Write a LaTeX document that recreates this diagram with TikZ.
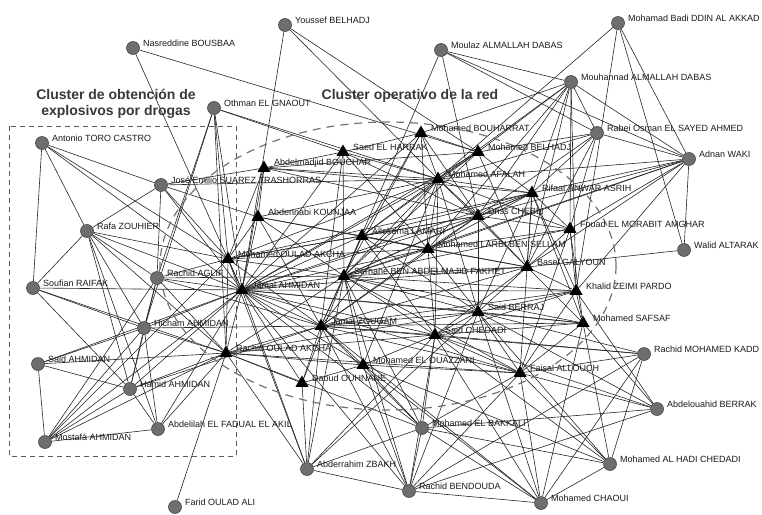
\documentclass[tikz,border=0pt]{standalone}
\usepackage{fontspec}
\newfontfamily\labfont{Liberation Sans}
\usetikzlibrary{shapes.geometric,backgrounds}
\tikzset{
 cnd/.style={circle,fill=black!57,draw=black!72,line width=0.6pt,minimum size=13pt,inner sep=0pt},
 tnd/.style={regular polygon,regular polygon sides=3,fill=black,minimum size=15pt,inner sep=0pt},
 lab/.style={anchor=west,inner sep=0pt,font=\labfont\fontsize{9}{10}\selectfont,text=black!90},
 edge/.style={draw=black!85,line width=0.6pt},
 ttl/.style={font=\labfont\bfseries\fontsize{14}{16}\selectfont,text=black!78,align=center},
 clusterbox/.style={draw=black!65,line width=0.9pt,dash pattern=on 5pt off 4pt},
 clusterell/.style={draw=black!55,line width=1.2pt,dash pattern=on 8pt off 6pt},
}
\newcommand{\pcirc}[4]{\node[cnd] (#1) at (#2,#3) {}; \node[lab] (#1-l) at (#2+10,#3-5) {#4};}
\newcommand{\ptri}[4]{\node[tnd] (#1) at (#2,#3) {}; \node[lab] (#1-l) at (#2+10,#3-5) {#4};}
\begin{document}
\begin{tikzpicture}[x=1pt,y=-1pt]
\useasboundingbox (0,0) rectangle (762,514);
% circles
\pcirc{bousbaa}{133}{48}{Nasreddine BOUSBAA}
\pcirc{gnaout}{214}{108}{Othman EL GNAOUT}
\pcirc{toro}{42}{143}{Antonio TORO CASTRO}
\pcirc{belhadjY}{285}{25}{Youssef BELHADJ}
\pcirc{moulaz}{441}{50}{Moulaz ALMALLAH DABAS}
\pcirc{akkad}{618}{23}{Mohamad Badi DDIN AL AKKAD}
\pcirc{mouhannad}{571}{82}{Mouhannad ALMALLAH DABAS}
\pcirc{rabei}{597}{133}{Rabei Osman EL SAYED AHMED}
\pcirc{waki}{689}{159}{Adnan WAKI}
\pcirc{altarak}{684}{250}{Walid ALTARAK}
\pcirc{suarez}{161}{185}{José Emilio SUAREZ TRASHORRAS}
\pcirc{zouhier}{87}{231}{Rafa ZOUHIER}
\pcirc{raifak}{33}{288}{Soufian RAIFAK}
\pcirc{aglif}{157}{278}{Rachid AGLIF}
\pcirc{hicham}{144}{328}{Hicham AHMIDAN}
\pcirc{saidA}{38}{364}{Said AHMIDAN}
\pcirc{hamid}{130}{389}{Hamid AHMIDAN}
\pcirc{mostafa}{45}{442}{Mostafá AHMIDAN}
\pcirc{fadual}{158}{429}{Abdelilah EL FADUAL EL AKIL}
\pcirc{farid}{175}{507}{Farid OULAD ALI}
\pcirc{zbakh}{307}{469}{Abderrahim ZBAKH}
\pcirc{bakkali}{422}{428}{Mohamed EL BAKKALI}
\pcirc{bendouda}{409}{491}{Rachid BENDOUDA}
\pcirc{kadd}{644}{354}{Rachid MOHAMED KADD}
\pcirc{berrak}{657}{409}{Abdelouahid BERRAK}
\pcirc{hadi}{610}{464}{Mohamed AL HADI CHEDADI}
\pcirc{chaoui}{541}{503}{Mohamed CHAOUI}
% triangles
\ptri{bouharrat}{421}{133}{Mohamed BOUHARRAT}
\ptri{harrak}{343}{152}{Saed EL HARRAK}
\ptri{bouchar}{264}{168}{Abdelmadjid BOUCHAR}
\ptri{belhadjM}{478}{152}{Mohamed BELHADJ}
\ptri{afalah}{438}{179}{Mohamed AFALAH}
\ptri{asrih}{532}{193}{Rifaat ANWAR ASRIH}
\ptri{kounjaa}{258}{217}{Abdennabi KOUNJAA}
\ptri{chebli}{478}{216}{Driss CHEBLI}
\ptri{morabit}{570}{229}{Fouad EL MORABIT AMGHAR}
\ptri{lamari}{362}{236}{Allekema LAMARI}
\ptri{larbi}{428}{249}{Mohamed LARBI BEN SELLAM}
\ptri{mOulad}{228}{259}{Mohamed OULAD AKCHA}
\ptri{galyoun}{527}{267}{Basel GALYOUN}
\ptri{fakhet}{344}{276}{Serhane BEN ABDELMAJID FAKHET}
\ptri{jamal}{242}{290}{Jamal AHMIDAN}
\ptri{zeimi}{576}{291}{Khalid ZEIMI PARDO}
\ptri{berraj}{478}{312}{Said BERRAJ}
\ptri{zougam}{321}{326}{Jamal ZOUGAM}
\ptri{safsaf}{583}{323}{Mohamed SAFSAF}
\ptri{chedadi}{435}{335}{Said CHEDADI}
\ptri{rOulad}{226}{353}{Rachid OULAD AKCHA}
\ptri{ouazzani}{363}{365}{Mohamed EL OUAZZANI}
\ptri{allouch}{520}{373}{Faisal ALLOUCH}
\ptri{ouhnane}{302}{383}{Daoud OUHNANE}
% titles
\node[ttl] (t1) at (116,104) {Cluster de obtención de\\explosivos por drogas};
\node[ttl] (t2) at (410,96) {Cluster operativo de la red};
\begin{pgfonlayer}{background}
\foreach \a/\b in {
bousbaa/belhadjM, bousbaa/jamal,
gnaout/aglif, gnaout/mOulad, gnaout/jamal, gnaout/rOulad, gnaout/hicham, gnaout/harrak, gnaout/afalah,
toro/raifak, toro/zouhier, toro/jamal, toro/suarez, toro/mOulad,
belhadjY/jamal, belhadjY/belhadjM, belhadjY/afalah,
moulaz/fakhet, moulaz/chebli, moulaz/mouhannad, moulaz/waki, moulaz/rabei,
akkad/afalah, akkad/waki, akkad/altarak, akkad/zeimi,
mouhannad/morabit, mouhannad/zeimi, mouhannad/galyoun, mouhannad/asrih, mouhannad/chebli, mouhannad/belhadjM, mouhannad/bouharrat, mouhannad/rabei, mouhannad/waki, mouhannad/afalah, mouhannad/larbi,
rabei/waki, rabei/asrih, rabei/morabit, rabei/galyoun, rabei/chebli, rabei/belhadjM, rabei/afalah,
waki/asrih, waki/morabit, waki/galyoun, waki/chebli, waki/larbi, waki/altarak, waki/zeimi, waki/fakhet, waki/afalah,
altarak/galyoun,
suarez/zouhier, suarez/aglif, suarez/jamal, suarez/mOulad, suarez/bouchar, suarez/kounjaa, suarez/afalah,
zouhier/raifak, zouhier/aglif, zouhier/hicham, zouhier/jamal, zouhier/mOulad, zouhier/hamid, zouhier/rOulad, zouhier/fadual,
raifak/jamal, raifak/hicham, raifak/hamid, raifak/rOulad,
aglif/jamal, aglif/hicham, aglif/hamid, aglif/mOulad, aglif/rOulad, aglif/mostafa, aglif/zougam, aglif/fakhet,
hicham/jamal, hicham/rOulad, hicham/hamid, hicham/mostafa, hicham/fadual, hicham/zougam, hicham/saidA,
saidA/hamid, saidA/mostafa, saidA/jamal, saidA/rOulad,
hamid/jamal, hamid/rOulad, hamid/mostafa, hamid/fadual, hamid/zougam,
mostafa/fadual, mostafa/rOulad, mostafa/jamal, mostafa/mOulad,
fadual/rOulad, fadual/jamal,
farid/rOulad,
zbakh/rOulad, zbakh/jamal, zbakh/zougam, zbakh/bakkali, zbakh/bendouda, zbakh/fakhet, zbakh/chedadi, zbakh/ouhnane, zbakh/mOulad, zbakh/berraj,
bakkali/bendouda, bakkali/ouazzani, bakkali/chedadi, bakkali/allouch, bakkali/zougam, bakkali/fakhet, bakkali/chaoui, bakkali/hadi, bakkali/berrak, bakkali/rOulad,
bendouda/chaoui, bendouda/ouazzani, bendouda/chedadi, bendouda/allouch, bendouda/berraj, bendouda/kadd, bendouda/zougam,
kadd/allouch, kadd/hadi, kadd/chaoui, kadd/berraj, kadd/chedadi, kadd/zougam,
berrak/allouch, berrak/safsaf, berrak/berraj, berrak/chedadi, berrak/bendouda, berrak/zeimi,
hadi/allouch, hadi/chaoui, hadi/chedadi, hadi/safsaf, hadi/ouazzani, hadi/berraj,
chaoui/allouch, chaoui/chedadi, chaoui/safsaf, chaoui/zougam, chaoui/berraj, chaoui/ouazzani,
bouharrat/harrak, bouharrat/afalah, bouharrat/belhadjM, bouharrat/lamari, bouharrat/fakhet, bouharrat/chebli, bouharrat/jamal, bouharrat/larbi,
harrak/bouchar, harrak/afalah, harrak/fakhet, harrak/jamal, harrak/larbi, harrak/zougam, harrak/chebli,
bouchar/afalah, bouchar/asrih, bouchar/belhadjM, bouchar/kounjaa, bouchar/mOulad, bouchar/jamal, bouchar/chebli,
belhadjM/afalah, belhadjM/asrih, belhadjM/lamari, belhadjM/fakhet, belhadjM/jamal, belhadjM/galyoun,
afalah/asrih, afalah/chebli, afalah/lamari, afalah/larbi, afalah/fakhet, afalah/jamal, afalah/mOulad, afalah/kounjaa, afalah/zougam, afalah/berraj, afalah/morabit, afalah/galyoun, afalah/ouazzani, afalah/chedadi,
asrih/chebli, asrih/morabit, asrih/larbi, asrih/fakhet, asrih/jamal, asrih/galyoun, asrih/zeimi, asrih/lamari, asrih/mOulad, asrih/berraj, asrih/safsaf, asrih/allouch,
kounjaa/jamal, kounjaa/mOulad, kounjaa/lamari, kounjaa/fakhet, kounjaa/larbi, kounjaa/zougam,
chebli/larbi, chebli/lamari, chebli/fakhet, chebli/morabit, chebli/galyoun, chebli/jamal, chebli/berraj, chebli/zougam,
morabit/galyoun, morabit/zeimi, morabit/larbi, morabit/fakhet, morabit/safsaf, morabit/allouch,
lamari/larbi, lamari/fakhet, lamari/jamal, lamari/mOulad, lamari/zougam, lamari/galyoun, lamari/berraj, lamari/chedadi,
larbi/fakhet, larbi/galyoun, larbi/berraj, larbi/jamal, larbi/zougam, larbi/chedadi, larbi/mOulad,
mOulad/jamal, mOulad/rOulad, mOulad/fakhet, mOulad/zougam, mOulad/chebli,
galyoun/fakhet, galyoun/zeimi, galyoun/berraj, galyoun/safsaf, galyoun/jamal, galyoun/chedadi, galyoun/zougam,
fakhet/jamal, fakhet/zougam, fakhet/berraj, fakhet/chedadi, fakhet/rOulad, fakhet/allouch, fakhet/safsaf, fakhet/zeimi, fakhet/ouazzani, fakhet/ouhnane, fakhet/bendouda,
jamal/rOulad, jamal/zougam, jamal/berraj, jamal/ouhnane, jamal/ouazzani, jamal/chedadi, jamal/allouch, jamal/safsaf, jamal/zeimi, jamal/bakkali, jamal/bendouda,
zeimi/safsaf, zeimi/berraj, zeimi/allouch, zeimi/chedadi, zeimi/zougam,
berraj/chedadi, berraj/safsaf, berraj/allouch, berraj/zougam,
zougam/chedadi, zougam/rOulad, zougam/ouazzani, zougam/allouch, zougam/ouhnane, zougam/safsaf,
safsaf/allouch, safsaf/chedadi,
chedadi/allouch, chedadi/ouazzani,
rOulad/ouazzani, rOulad/ouhnane, rOulad/allouch, rOulad/chedadi, rOulad/berraj,
ouazzani/allouch, ouazzani/ouhnane}
 \draw[edge] (\a) -- (\b);
\draw[clusterbox] (9,126) rectangle (236,456);
\draw[clusterell] (388,266) ellipse [x radius=228, y radius=144];
\end{pgfonlayer}
\end{tikzpicture}
\end{document}
